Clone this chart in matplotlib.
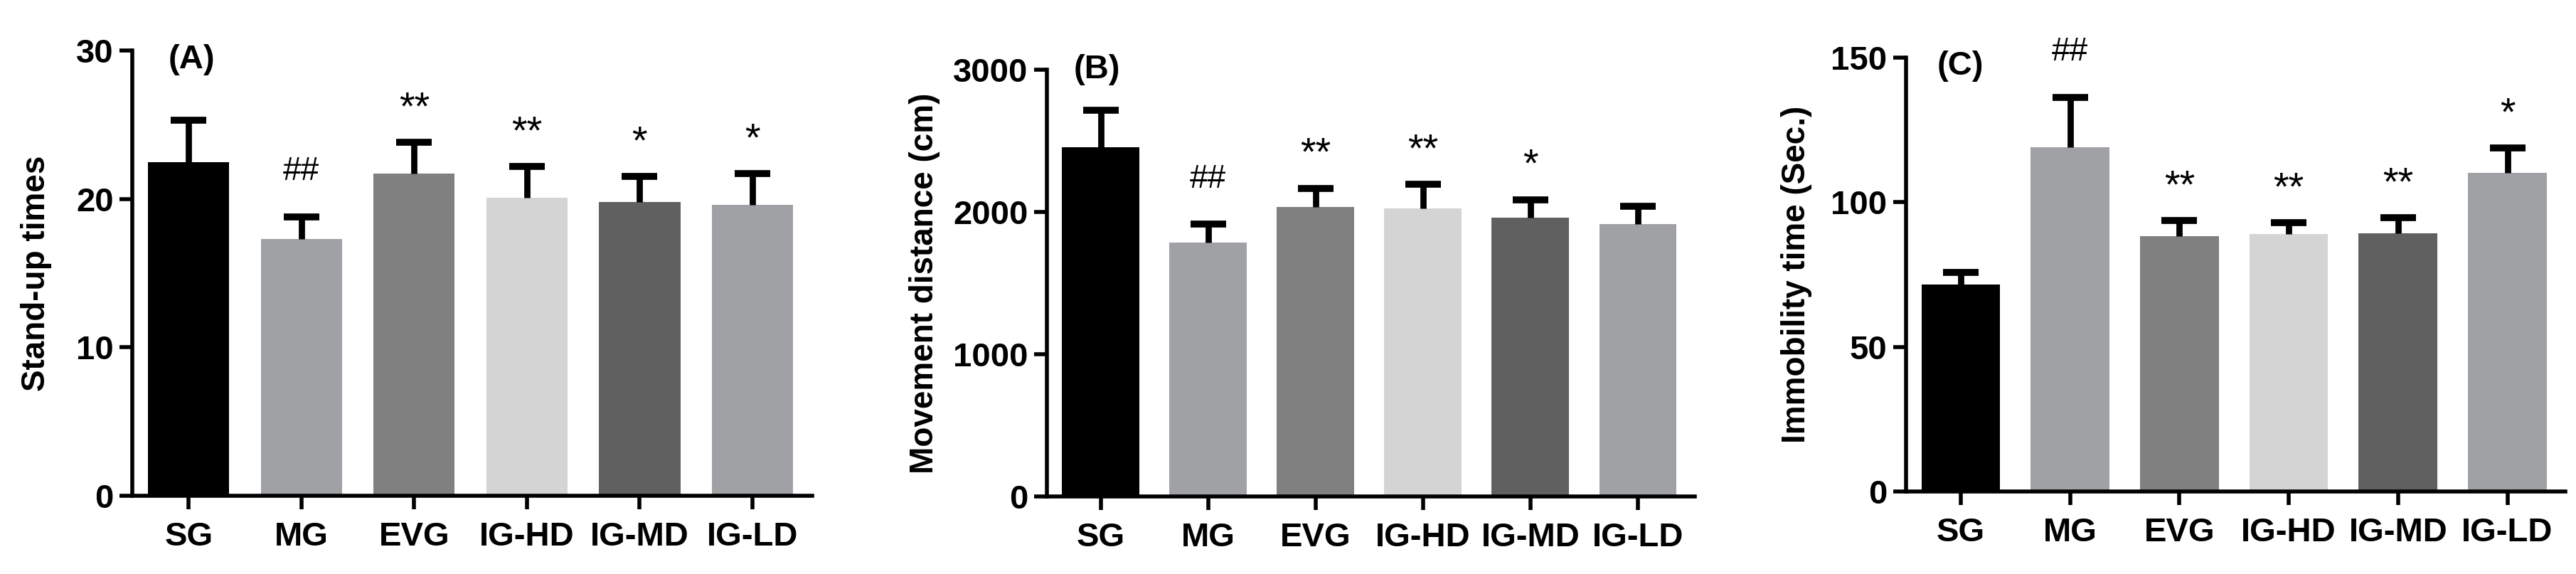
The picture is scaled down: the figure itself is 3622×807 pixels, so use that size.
import numpy as np
import matplotlib
matplotlib.use('Agg')
import matplotlib.pyplot as plt
from matplotlib.textpath import TextPath
from matplotlib.font_manager import FontProperties

plt.rcParams['font.family'] = ['Liberation Sans', 'DejaVu Sans']

groups = ['SG', 'MG', 'EVG', 'IG-HD', 'IG-MD', 'IG-LD']
bar_colors = ['#000000', '#a0a1a5', '#808080', '#d4d4d4', '#606060', '#a0a1a5']

# (A) stand-up times
standup_mean = [22.5, 17.3, 21.7, 20.1, 19.8, 19.6]
standup_err = [2.8, 1.5, 2.1, 2.1, 1.7, 2.1]
standup_sig = ['', '##', '**', '**', '*', '*']

# (B) movement distance
distance_mean = [2457, 1784, 2035, 2027, 1958, 1914]
distance_err = [258, 130, 132, 166, 129, 124]
distance_sig = ['', '##', '**', '**', '*', '']

# (C) immobility time
immobility_mean = [71.6, 119.1, 88.2, 88.9, 89.2, 110.2]
immobility_err = [4.2, 17.2, 5.4, 4.1, 5.5, 8.6]
immobility_sig = ['', '##', '**', '**', '**', '*']

W, H = 3623, 807
fig = plt.figure(figsize=(W / 100, H / 100), dpi=100)


def px(left, top, right, bottom):
    return [left / W, 1 - bottom / H, (right - left) / W, (bottom - top) / H]


def ink_bottom(s, size):
    # lowest point of the glyph ink above the baseline, in points
    tp = TextPath((0, 0), s, size=size, prop=FontProperties(family='Liberation Sans'))
    return tp.get_extents().y0


panels = [
    dict(rect=px(186, 71, 1142, 697), mean=standup_mean, err=standup_err, sig=standup_sig,
         ticks=[0, 10, 20, 30], ylabel='Stand-up times', tag='(A)', tagpos=(0.053, 0.98),
         labx=-0.118),
    dict(rect=px(1472, 98, 2383, 698), mean=distance_mean, err=distance_err, sig=distance_sig,
         ticks=[0, 1000, 2000, 3000], ylabel='Movement distance (cm)', tag='(B)',
         tagpos=(0.041, 1.0), labx=-0.165),
    dict(rect=px(2680, 81, 3607, 691), mean=immobility_mean, err=immobility_err, sig=immobility_sig,
         ticks=[0, 50, 100, 150], ylabel='Immobility time (Sec.)', tag='(C)',
         tagpos=(0.047, 0.98), labx=-0.142),
]

x = np.arange(len(groups))
for p in panels:
    ax = fig.add_axes(p['rect'])
    ax.bar(x, p['mean'], width=0.72, color=bar_colors, zorder=2)
    _, caps, _ = ax.errorbar(x, p['mean'], yerr=[np.zeros(len(x)), p['err']], fmt='none',
                             ecolor='black', elinewidth=6.3, capsize=18, capthick=7, zorder=3)
    caps[0].remove()  # no cap at the bar top
    ax.set_xlim(-0.5, 5.53)
    ax.set_ylim(0, p['ticks'][-1])
    ax.set_yticks(p['ticks'])
    ax.set_xticks(x)
    ax.set_xticklabels(groups)
    for s in ['top', 'right']:
        ax.spines[s].set_visible(False)
    for s in ['left', 'bottom']:
        ax.spines[s].set_linewidth(4)
    ax.tick_params(axis='y', length=13, width=4, pad=6, labelsize=34)
    ax.tick_params(axis='x', length=14, width=4, pad=12, labelsize=34)
    for lab in ax.get_xticklabels() + ax.get_yticklabels():
        lab.set_fontweight('bold')
    ax.set_ylabel(p['ylabel'], fontsize=33, fontweight='bold')
    ax.yaxis.set_label_coords(p['labx'], 0.5)
    ax.text(p['tagpos'][0], p['tagpos'][1], p['tag'], transform=ax.transAxes,
            fontsize=34, fontweight='bold', ha='left', va='center')
    for i, s in enumerate(p['sig']):
        if not s:
            continue
        size = 33 if s.startswith('#') else 40
        off = 37 - ink_bottom(s, size)
        ax.annotate(s, xy=(i, p['mean'][i] + p['err'][i]), xytext=(0, off),
                    textcoords='offset points', ha='center', va='baseline',
                    fontsize=size, clip_on=False)

fig.savefig('out.png', dpi=100)
